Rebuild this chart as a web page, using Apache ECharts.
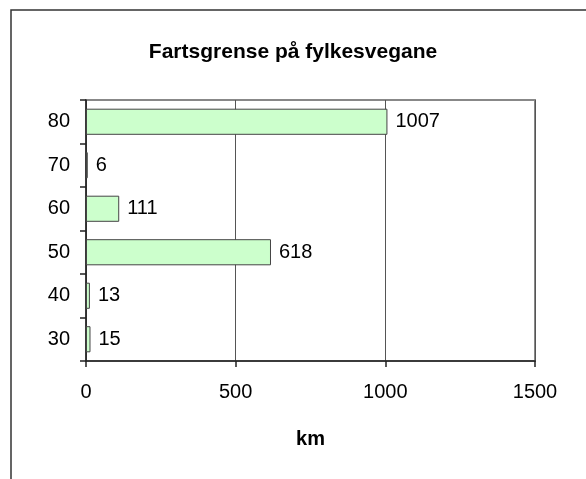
<!DOCTYPE html>
<html>
<head>
<meta charset="utf-8">
<script src="https://cdn.jsdelivr.net/npm/echarts@6/dist/echarts.min.js"></script>
<style>
  html, body { margin: 0; padding: 0; background: #fff; }
  #chart { width: 586px; height: 479px; }
</style>
</head>
<body>
<div id="chart"></div>
<script>
// Fartsgrense (km/t) og lengd i km
const speedLimits = ['30', '40', '50', '60', '70', '80'];
const kmValues = [15, 13, 618, 111, 6, 1007];
const xTicks = { min: 0, max: 1500, interval: 500 };

const FONT = '"Liberation Sans", Arial, sans-serif';

const chart = echarts.init(document.getElementById('chart'), null, { renderer: 'canvas' });

const option = {
  backgroundColor: '#ffffff',
  animation: false,
  title: {
    text: 'Fartsgrense på fylkesvegane',
    left: 'center',
    top: 37,
    textStyle: { fontFamily: FONT, fontSize: 21, fontWeight: 'bold', color: '#000' }
  },
  graphic: [{
    type: 'rect',
    shape: { x: 11, y: 10, width: 620, height: 520 },
    style: { fill: 'none', stroke: '#333', lineWidth: 1.5 },
    silent: true
  }],
  grid: {
    left: 86,
    top: 100,
    width: 449,
    height: 261,
    show: true,
    borderColor: '#888',
    borderWidth: 2,
    backgroundColor: 'transparent'
  },
  xAxis: {
    type: 'value',
    min: xTicks.min,
    max: xTicks.max,
    interval: xTicks.interval,
    name: 'km',
    nameLocation: 'middle',
    nameGap: 68,
    nameTextStyle: { fontFamily: FONT, fontSize: 20, fontWeight: 'bold', color: '#000' },
    axisLine: { show: true, lineStyle: { color: '#222', width: 1.5 } },
    axisTick: { show: true, length: 6, lineStyle: { color: '#222', width: 1.5 } },
    axisLabel: {
      fontFamily: FONT, fontSize: 20, color: '#000', margin: 21,
      formatter: v => String(v)
    },
    splitLine: { show: true, lineStyle: { color: '#555', width: 1 } }
  },
  yAxis: {
    type: 'category',
    data: speedLimits,
    boundaryGap: true,
    axisLine: { show: true, lineStyle: { color: '#222', width: 1.5 } },
    axisTick: { show: true, length: 6, lineStyle: { color: '#222', width: 1.5 } },
    axisLabel: { fontFamily: FONT, fontSize: 20, color: '#000', margin: 16 },
    splitLine: { show: false }
  },
  series: [{
    type: 'bar',
    data: kmValues,
    barWidth: '60%',
    itemStyle: { color: '#CCFFCC', borderColor: '#444', borderWidth: 1 },
    label: {
      show: true,
      position: 'right',
      distance: 8,
      fontFamily: FONT,
      fontSize: 20,
      color: '#000'
    }
  }]
};

chart.setOption(option);
</script>
</body>
</html>
